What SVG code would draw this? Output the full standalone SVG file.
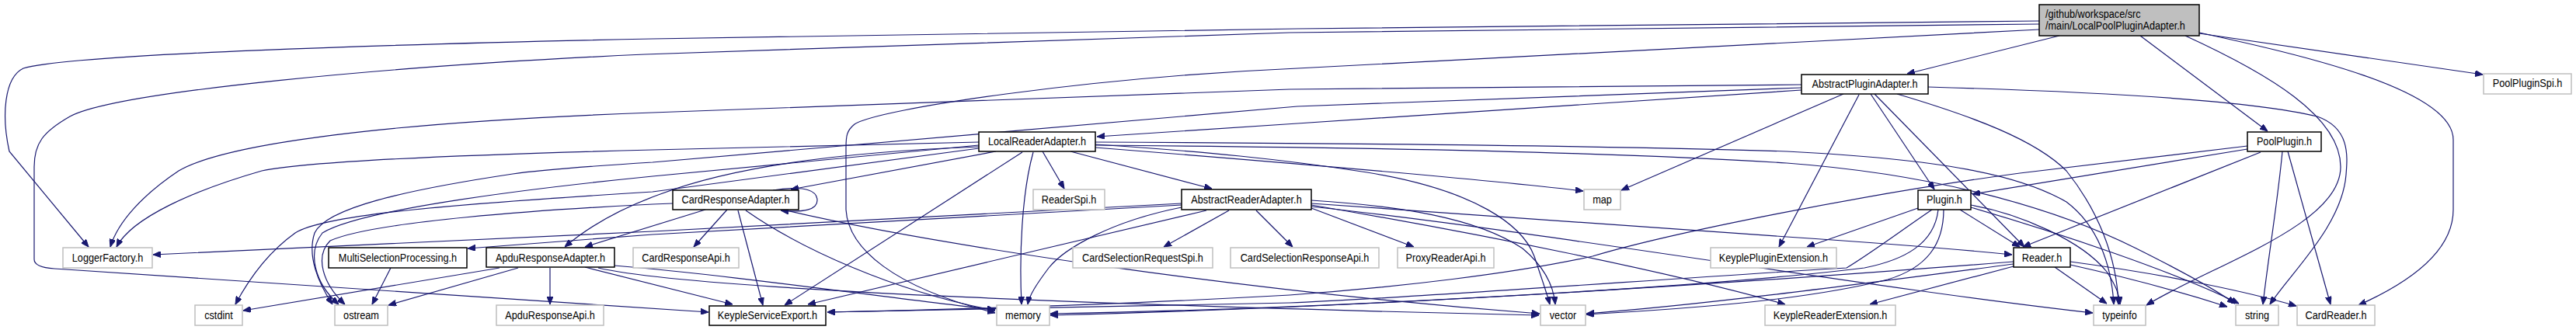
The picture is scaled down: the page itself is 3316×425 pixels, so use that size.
<svg xmlns="http://www.w3.org/2000/svg" width="3316" height="425" viewBox="0 0 3316 425">
<defs>
<marker id="a" viewBox="0 0 10 8" refX="10" refY="4" markerWidth="10" markerHeight="8" markerUnits="userSpaceOnUse" orient="auto"><path d="M0,0 L10,4 L0,8 z" fill="#191970" stroke="#191970" stroke-width="1"/></marker>
</defs>
<style>
.e{fill:none;stroke:#191970;stroke-width:1.2;marker-end:url(#a)}
.n rect{fill:#fff;stroke:#000;stroke-width:1.5}
.g rect{stroke:#bfbfbf}
.t{font-family:"Liberation Sans",Arial,Helvetica,sans-serif;font-size:15px;text-anchor:middle;fill:#000}
.tl{font-family:"Liberation Sans",Arial,Helvetica,sans-serif;font-size:15px;text-anchor:start;fill:#000}
</style>
<rect x="0" y="0" width="3316" height="425" fill="#fff"/>
<g id="edges">
<path class="e" d="M2651,46 L2455,95"/>
<path class="e" d="M2755,46 L2919,169"/>
<path class="e" d="M2831,43 L3196,96"/>
<path class="e" d="M2625,27 L1670,37 L840,50 C500,57 90,70 30,88 C5,100 2,150 12,195 L114,318"/>
<path class="e" d="M2625,31 L1660,42 L830,70 C500,85 150,118 90,150 C55,170 44,185 44,215 L44,334 C44,342 55,345 70,346 L912,402"/>
<path class="e" d="M2625,38 L1670,88 C1400,100 1130,140 1100,160 C1090,168 1089,175 1089,190 L1089,270 C1092,320 1150,370 1281,403"/>
<path class="e" d="M2813,46 C2920,95 3013,150 3013,215 C3013,290 2850,340 2763,393"/>
<path class="e" d="M2831,42 C2960,70 3158,115 3158,180 L3158,270 C3158,320 3110,360 3036,393"/>
<path class="e" d="M2319,116 L1670,159 L1412,176"/>
<path class="e" d="M2319,109 L1660,115 L840,145 C500,157 290,185 230,220 C185,250 152,285 142,318"/>
<path class="e" d="M2319,113 L1670,137 L840,209 C760,214 700,218 660,224 C520,245 420,268 405,300 C395,330 410,365 428,392"/>
<path class="e" d="M2373,121 L2087,245"/>
<path class="e" d="M2393,122 L2290,318"/>
<path class="e" d="M2408,121 L2490,244"/>
<path class="e" d="M2413,121 L2606,318"/>
<path class="e" d="M2442,121 C2540,150 2620,180 2660,220 C2700,270 2725,330 2727,392"/>
<path class="e" d="M2482,112 C2700,118 2900,130 2983,150 C3025,165 3022,200 3020,225 C3015,290 2950,350 2922,392"/>
<path class="e" d="M2893,192 L2539,250"/>
<path class="e" d="M2910,196 L2604,318"/>
<path class="e" d="M2893,188 L2600,223 C2400,250 2150,300 2050,330 C1950,352 1800,370 1660,380 C1450,392 1250,398 1065,402"/>
<path class="e" d="M2938,195 C2932,260 2920,330 2913,392"/>
<path class="e" d="M2945,195 L3000,392"/>
<path class="e" d="M1260,183 L840,193 C600,199 400,207 337,220 C250,245 170,280 150,318"/>
<path class="e" d="M1260,187 L840,227 C650,246 460,272 415,300 C395,325 405,365 436,392"/>
<path class="e" d="M1260,191 L840,247 C600,262 420,275 380,300 C345,325 320,360 303,392"/>
<path class="e" d="M1282,195 L1018,244"/>
<path class="e" d="M1260,189 C1100,195 950,212 850,250 C800,268 760,290 727,318"/>
<path class="e" d="M1342,195 L1370,243"/>
<path class="e" d="M1378,195 L1560,243"/>
<path class="e" d="M1330,196 C1315,250 1312,330 1315,392"/>
<path class="e" d="M1316,196 L1010,393"/>
<path class="e" d="M1410,190 C1600,205 1900,230 2038,246"/>
<path class="e" d="M1410,186 C1550,195 1650,205 1760,222 C1900,245 1960,290 1975,330 C1985,360 1992,380 1995,392"/>
<path class="e" d="M1410,183 C1800,185 2100,188 2300,195 C2500,205 2600,225 2660,260 C2700,290 2718,340 2721,392"/>
<path class="e" d="M1410,187 C1800,190 2100,197 2300,210 C2500,225 2650,270 2750,320 C2820,355 2855,375 2877,391"/>
<path class="e" d="M995,245 C1040,238 1052,247 1052,258 C1052,270 1035,274 1005,271"/>
<path class="e" d="M908,270 L753,318"/>
<path class="e" d="M936,270 L893,318"/>
<path class="e" d="M950,271 L982,393"/>
<path class="e" d="M960,271 C1030,320 1150,375 1281,400"/>
<path class="e" d="M1012,271 C1200,315 1600,375 1982,404"/>
<path class="e" d="M866,262 L840,263 C700,270 480,285 425,310 C405,330 415,365 444,392"/>
<path class="e" d="M1521,262 L840,298 L197,328"/>
<path class="e" d="M1521,264 L840,302 L602,320"/>
<path class="e" d="M1553,271 L1040,392"/>
<path class="e" d="M1521,267 C1430,285 1370,320 1350,345 C1335,365 1325,380 1323,392"/>
<path class="e" d="M1582,271 L1498,318"/>
<path class="e" d="M1617,271 L1664,318"/>
<path class="e" d="M1688,268 L1820,318"/>
<path class="e" d="M1688,258 C1800,265 1900,280 1960,320 C1990,345 2000,370 2002,392"/>
<path class="e" d="M1688,264 C1900,300 2150,350 2298,392"/>
<path class="e" d="M1688,262 C1900,275 2100,290 2300,305 C2450,315 2530,322 2590,328"/>
<path class="e" d="M1688,266 C2000,300 2400,370 2694,403"/>
<path class="e" d="M503,345 L479,392"/>
<path class="e" d="M643,345 L313,400"/>
<path class="e" d="M667,345 L500,393"/>
<path class="e" d="M708,345 L708,392"/>
<path class="e" d="M753,344 L943,392"/>
<path class="e" d="M791,342 C950,355 1150,385 1281,399"/>
<path class="e" d="M770,345 C900,375 1500,395 1981,406"/>
<path class="e" d="M2469,268 L2326,318"/>
<path class="e" d="M2523,270 L2600,318"/>
<path class="e" d="M2487,270 C2450,295 2410,325 2377,345 C2200,355 1800,385 1660,390 C1400,397 1200,400 1065,402"/>
<path class="e" d="M2495,270 C2490,315 2450,335 2400,345 C2200,370 1700,398 1352,404"/>
<path class="e" d="M2502,270 C2502,315 2480,345 2430,360 C2330,385 2200,396 2042,405"/>
<path class="e" d="M2537,264 C2600,275 2680,310 2712,350 C2725,370 2728,380 2729,392"/>
<path class="e" d="M2537,267 C2650,300 2800,350 2882,391"/>
<path class="e" d="M2592,343 L2407,392"/>
<path class="e" d="M2592,337 C2300,360 1800,395 1352,406"/>
<path class="e" d="M2592,340 C2400,365 2200,392 2042,404"/>
<path class="e" d="M2645,344 L2712,391"/>
<path class="e" d="M2665,341 C2750,360 2820,380 2867,395"/>
<path class="e" d="M2665,337 C2800,355 2900,378 2956,394"/>
</g>
<g id="n-root" class="n"><rect x="2625" y="6" width="206" height="40" style="fill:#bfbfbf"/><text class="tl" transform="matrix(0.847 0 0 1 2633 22.5)">/github/workspace/src</text><text class="tl" transform="matrix(0.847 0 0 1 2633 37.5)">/main/LocalPoolPluginAdapter.h</text></g>
<g id="n-AbstractPluginAdapter" class="n"><rect x="2319" y="96" width="163" height="25"/><text class="t" transform="matrix(0.847 0 0 1 2400.5 113)">AbstractPluginAdapter.h</text></g>
<g id="n-PoolPluginSpi" class="n g"><rect x="3197" y="95" width="113" height="26"/><text class="t" transform="matrix(0.847 0 0 1 3253.5 112)">PoolPluginSpi.h</text></g>
<g id="n-LocalReaderAdapter" class="n"><rect x="1260" y="170" width="150" height="25"/><text class="t" transform="matrix(0.847 0 0 1 1335 187)">LocalReaderAdapter.h</text></g>
<g id="n-PoolPlugin" class="n"><rect x="2893" y="170" width="95" height="25"/><text class="t" transform="matrix(0.847 0 0 1 2940.5 187)">PoolPlugin.h</text></g>
<g id="n-CardResponseAdapter" class="n"><rect x="866" y="245" width="162" height="25"/><text class="t" transform="matrix(0.847 0 0 1 947 262)">CardResponseAdapter.h</text></g>
<g id="n-ReaderSpi" class="n g"><rect x="1330" y="244" width="92" height="26"/><text class="t" transform="matrix(0.847 0 0 1 1376 262)">ReaderSpi.h</text></g>
<g id="n-AbstractReaderAdapter" class="n"><rect x="1521" y="244" width="167" height="26"/><text class="t" transform="matrix(0.847 0 0 1 1604.5 262)">AbstractReaderAdapter.h</text></g>
<g id="n-map" class="n g"><rect x="2039" y="244" width="47" height="26"/><text class="t" transform="matrix(0.847 0 0 1 2062.5 262)">map</text></g>
<g id="n-Plugin" class="n"><rect x="2469" y="245" width="68" height="25"/><text class="t" transform="matrix(0.847 0 0 1 2503 262)">Plugin.h</text></g>
<g id="n-LoggerFactory" class="n g"><rect x="81" y="319" width="115" height="26"/><text class="t" transform="matrix(0.847 0 0 1 138.5 336.5)">LoggerFactory.h</text></g>
<g id="n-MultiSelectionProcessing" class="n"><rect x="423" y="319" width="178" height="26"/><text class="t" transform="matrix(0.847 0 0 1 512 336.5)">MultiSelectionProcessing.h</text></g>
<g id="n-ApduResponseAdapter" class="n"><rect x="626" y="319" width="165" height="25"/><text class="t" transform="matrix(0.847 0 0 1 708.5 336.5)">ApduResponseAdapter.h</text></g>
<g id="n-CardResponseApi" class="n g"><rect x="815" y="319" width="136" height="26"/><text class="t" transform="matrix(0.847 0 0 1 883 336.5)">CardResponseApi.h</text></g>
<g id="n-CardSelectionRequestSpi" class="n g"><rect x="1381" y="319" width="180" height="26"/><text class="t" transform="matrix(0.847 0 0 1 1471 336.5)">CardSelectionRequestSpi.h</text></g>
<g id="n-CardSelectionResponseApi" class="n g"><rect x="1584" y="319" width="191" height="26"/><text class="t" transform="matrix(0.847 0 0 1 1679.5 336.5)">CardSelectionResponseApi.h</text></g>
<g id="n-ProxyReaderApi" class="n g"><rect x="1799" y="319" width="124" height="26"/><text class="t" transform="matrix(0.847 0 0 1 1861 336.5)">ProxyReaderApi.h</text></g>
<g id="n-KeyplePluginExtension" class="n g"><rect x="2202" y="319" width="162" height="26"/><text class="t" transform="matrix(0.847 0 0 1 2283 336.5)">KeyplePluginExtension.h</text></g>
<g id="n-Reader" class="n"><rect x="2592" y="319" width="73" height="25"/><text class="t" transform="matrix(0.847 0 0 1 2628.5 336.5)">Reader.h</text></g>
<g id="n-cstdint" class="n g"><rect x="251" y="393" width="61" height="26"/><text class="t" transform="matrix(0.847 0 0 1 281.5 410.5)">cstdint</text></g>
<g id="n-ostream" class="n g"><rect x="431" y="393" width="68" height="26"/><text class="t" transform="matrix(0.847 0 0 1 465 410.5)">ostream</text></g>
<g id="n-ApduResponseApi" class="n g"><rect x="639" y="393" width="138" height="26"/><text class="t" transform="matrix(0.847 0 0 1 708 410.5)">ApduResponseApi.h</text></g>
<g id="n-KeypleServiceExport" class="n"><rect x="913" y="394" width="150" height="25"/><text class="t" transform="matrix(0.847 0 0 1 988 410.5)">KeypleServiceExport.h</text></g>
<g id="n-memory" class="n g"><rect x="1283" y="393" width="68" height="26"/><text class="t" transform="matrix(0.847 0 0 1 1317 410.5)">memory</text></g>
<g id="n-vector" class="n g"><rect x="1983" y="393" width="58" height="26"/><text class="t" transform="matrix(0.847 0 0 1 2012 410.5)">vector</text></g>
<g id="n-KeypleReaderExtension" class="n g"><rect x="2272" y="393" width="168" height="26"/><text class="t" transform="matrix(0.847 0 0 1 2356 410.5)">KeypleReaderExtension.h</text></g>
<g id="n-typeinfo" class="n g"><rect x="2695" y="393" width="67" height="26"/><text class="t" transform="matrix(0.847 0 0 1 2728.5 410.5)">typeinfo</text></g>
<g id="n-string" class="n g"><rect x="2878" y="393" width="55" height="26"/><text class="t" transform="matrix(0.847 0 0 1 2905.5 410.5)">string</text></g>
<g id="n-CardReader" class="n g"><rect x="2957" y="393" width="100" height="26"/><text class="t" transform="matrix(0.847 0 0 1 3007 410.5)">CardReader.h</text></g>
</svg>
